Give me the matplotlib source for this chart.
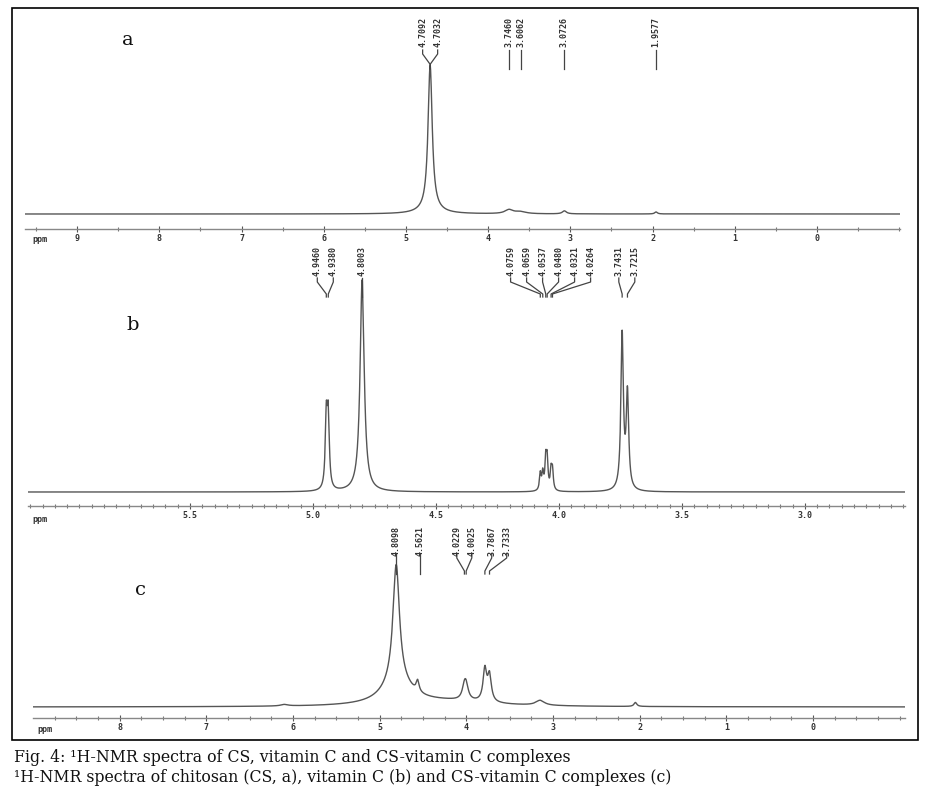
import numpy as np
import matplotlib
matplotlib.use('Agg')
import matplotlib.pyplot as plt

# peaks: shift (ppm), height (px above baseline), half width (ppm)
a_shift = [4.7092, 4.7032, 4.70, 3.7460, 3.6062, 3.0726, 1.9577]
a_height = [73, 73, 4, 4, 2, 3, 2]
a_width = [0.03, 0.03, 0.15, 0.06, 0.08, 0.03, 0.02]
a_labels = [["4.7092", "4.7032"], ["3.7460"], ["3.6062"], ["3.0726"], ["1.9577"]]
a_ticks = [9, 8, 7, 6, 5, 4, 3, 2, 1, 0]

b_shift = [4.9460, 4.9380, 4.8003, 4.0759, 4.0659, 4.0537, 4.0480, 4.0321, 4.0264,
           3.7431, 3.7215]
b_height = [70, 70, 212, 17, 17, 29, 29, 19, 19, 155, 95]
b_width = [0.005, 0.005, 0.01, 0.004, 0.004, 0.004, 0.004, 0.004, 0.004, 0.006, 0.006]
b_labels = [["4.9460", "4.9380"], ["4.8003"],
            ["4.0759", "4.0659", "4.0537", "4.0480", "4.0321", "4.0264"],
            ["3.7431", "3.7215"]]
b_ticks = [5.5, 5.0, 4.5, 4.0, 3.5, 3.0]

c_shift = [4.8098, 4.80, 4.5621, 4.0229, 4.0025, 3.7867, 3.7333, 4.2, 3.15, 2.05, 6.1]
c_height = [118, 22, 11, 12, 12, 32, 26, 5, 5, 4, 1.5]
c_width = [0.045, 0.2, 0.02, 0.03, 0.03, 0.025, 0.025, 0.6, 0.06, 0.02, 0.05]
c_labels = [["4.8098"], ["4.5621"], ["4.0229", "4.0025"], ["3.7867", "3.7333"]]
c_ticks = [8, 7, 6, 5, 4, 3, 2, 1, 0]

W, H = 926, 804
fig = plt.figure(figsize=(W / 100, H / 100), dpi=100)
fig.patch.set_facecolor('white')

mono = dict(family='DejaVu Sans Mono', fontsize=6, fontweight='bold', color='#333333')


def spectrum(x, shift, height, width):
    y = np.zeros_like(x)
    for s, h, w in zip(shift, height, width):
        y += h / (1 + ((x - s) / w) ** 2)
    return y


def panel(x0, x1, y_axis, y_top, y_base, left, right, shift, height, width,
          ticks, minor, fmt):
    ax = fig.add_axes([x0 / W, (H - y_axis) / H, (x1 - x0) / W, (y_axis - y_top) / H])
    x = np.linspace(right, left, 30000)
    ax.plot(x, spectrum(x, shift, height, width), color='#555555', lw=1.0)
    ax.set_xlim(left, right)
    ax.set_ylim(-(y_axis - y_base), y_base - y_top)
    for s in ['top', 'left', 'right']:
        ax.spines[s].set_visible(False)
    ax.spines['bottom'].set_color('#888888')
    ax.spines['bottom'].set_linewidth(1.0)
    ax.set_yticks([])
    ax.set_xticks(ticks)
    ax.set_xticklabels([fmt % t for t in ticks])
    ax.set_xticks(np.arange(np.ceil(right / minor) * minor, left, minor), minor=True)
    ax.tick_params(axis='x', which='major', direction='inout', length=4, width=0.8,
                   color='#555555', pad=1)
    ax.tick_params(axis='x', which='minor', direction='inout', length=2.5, width=0.8,
                   color='#777777')
    for lab in ax.get_xticklabels():
        lab.set_fontfamily('DejaVu Sans Mono')
        lab.set_fontsize(6)
        lab.set_fontweight('bold')
        lab.set_color('#333333')
    ax.set_facecolor('none')
    return ax


def peak_labels(ax, groups, ppx, y_base, t_top, stub, join, end, gap=15, shifts=None):
    # ppx: ppm per pixel; y values given as pixel rows, shifts in pixels per group
    if shifts is None:
        shifts = [0] * len(groups)
    for g, sh in zip(groups, shifts):
        pos = [float(t) for t in g]
        mid = np.mean(pos) - sh * ppx
        n = len(g)
        for i, (t, p) in enumerate(zip(g, pos)):
            lx = mid - (i - (n - 1) / 2) * gap * ppx
            ax.text(lx, y_base - t_top, t, rotation=90, ha='center', va='top',
                    clip_on=False, **mono)
            if n == 1:
                ax.plot([lx, lx], [y_base - (stub - 4), y_base - end],
                        color='#444444', lw=0.9, clip_on=False)
            else:
                ax.plot([lx, lx, p, p],
                        [y_base - (stub - 4), y_base - stub, y_base - join, y_base - end],
                        color='#444444', lw=0.9, clip_on=False)


# panel a
ax_a = panel(25, 900, 230, 12, 215, 9.635, -1.01, a_shift, a_height, a_width,
             a_ticks, 0.5, '%d')
peak_labels(ax_a, a_labels, (9.635 + 1.01) / 875, 215, 17, 55, 65, 70)

# panel b
ax_b = panel(28, 905, 507, 243, 493, 6.159, 2.593, b_shift, b_height, b_width,
             b_ticks, 0.05, '%.1f')
peak_labels(ax_b, b_labels, (6.159 - 2.593) / 877, 493, 246, 283, 295, 298,
            gap=16, shifts=[-2, 0, 4, 2])

# panel c
ax_c = panel(33, 905, 719, 522, 708, 9.0, -1.06, c_shift, c_height, c_width,
             c_ticks, 0.25, '%d')
peak_labels(ax_c, c_labels, (9.0 + 1.06) / 872, 708, 526, 559, 572, 575,
            shifts=[0, 2, -1, 12])

# ppm marks and panel letters
for px, py in [(40, 240), (40, 519), (45, 730)]:
    fig.text(px / W, 1 - py / H, 'ppm', ha='center', va='center', **mono)
for letter, px, py in [('a', 128, 40), ('b', 133, 325), ('c', 140, 590)]:
    fig.text(px / W, 1 - py / H, letter, ha='center', va='center',
             family='DejaVu Serif', fontsize=14, color='#111111')

# frame around the spectra
frame = plt.Rectangle((12 / W, 1 - 741 / H), 906 / W, 732 / H, transform=fig.transFigure,
                      fill=False, edgecolor='black', lw=1.2)
fig.patches.append(frame)

fig.text(14 / W, 1 - 758 / H, 'Fig. 4: \u00b9H-NMR spectra of CS, vitamin C and CS-vitamin C complexes',
         ha='left', va='center', family='DejaVu Serif', fontsize=11.3, color='#111111')
fig.text(14 / W, 1 - 778 / H,
         '\u00b9H-NMR spectra of chitosan (CS, a), vitamin C (b) and CS-vitamin C complexes (c)',
         ha='left', va='center', family='DejaVu Serif', fontsize=11.3, color='#111111')

fig.savefig('out.png', dpi=100)
